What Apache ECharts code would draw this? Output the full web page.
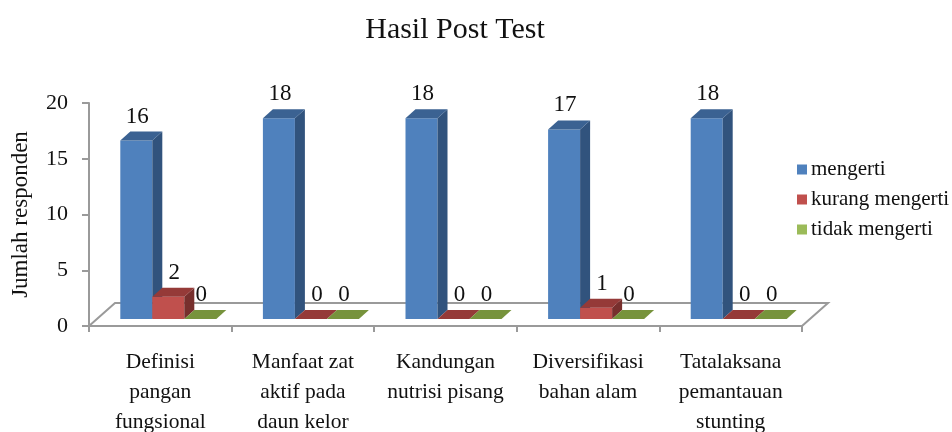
<!DOCTYPE html>
<html>
<head>
<meta charset="utf-8">
<style>
  html, body { margin: 0; padding: 0; background: #fff; }
  #chart { width: 952px; height: 432px; }
</style>
<script src="https://cdn.jsdelivr.net/npm/echarts@6/dist/echarts.min.js"></script>
</head>
<body>
<div id="chart"></div>
<script>
const categories = [
  "Definisi\npangan\nfungsional",
  "Manfaat zat\naktif pada\ndaun kelor",
  "Kandungan\nnutrisi pisang",
  "Diversifikasi\nbahan alam",
  "Tatalaksana\npemantauan\nstunting",
];
const mengerti = [16, 18, 18, 17, 18];
const kurangMengerti = [2, 0, 0, 1, 0];
const tidakMengerti = [0, 0, 0, 0, 0];

const serifFont = '"Liberation Serif", "Times New Roman", serif';
const axisColor = "#9a9a9a";

// pseudo-3D look, all in px relative to the grid
const barWidth = 32;
const depthX = 10;
const depthY = 9;
const floorDepthX = 26;
const floorDepthY = 23;
const baseLift = 7;

function makeBarRenderer(seriesIndex, colors, labelShift) {
  return (params, api) => {
    const value = api.value(1);
    const [cx, top] = api.coord([api.value(0), value]);
    const base = api.coord([api.value(0), 0])[1] - baseLift;
    const y = top - baseLift;
    const x = cx - 40 + seriesIndex * barWidth;
    const children = [];
    if (value > 0) {
      children.push({
        type: "rect",
        shape: { x, y, width: barWidth, height: base - y },
        style: { fill: colors.front },
      });
      children.push({
        type: "polygon",
        shape: {
          points: [
            [x + barWidth, y],
            [x + barWidth + depthX, y - depthY],
            [x + barWidth + depthX, base - depthY],
            [x + barWidth, base],
          ],
        },
        style: { fill: colors.side },
      });
    }
    children.push({
      type: "polygon",
      shape: {
        points: [
          [x, y],
          [x + depthX, y - depthY],
          [x + barWidth + depthX, y - depthY],
          [x + barWidth, y],
        ],
      },
      style: { fill: colors.top },
    });
    children.push({
      type: "text",
      style: {
        text: String(value),
        x: x + barWidth / 2 + labelShift,
        y: y - 24,
        align: "center",
        verticalAlign: "middle",
        font: `23px ${serifFont}`,
        fill: "#111",
      },
    });
    return { type: "group", children };
  };
}

function renderFloor(params) {
  const { x, y, width, height } = params.coordSys;
  const bottom = y + height;
  return {
    type: "polyline",
    shape: {
      points: [
        [x, bottom],
        [x + floorDepthX, bottom - floorDepthY],
        [x + width + floorDepthX, bottom - floorDepthY],
        [x + width, bottom],
      ],
    },
    style: { fill: "none", stroke: axisColor, lineWidth: 2 },
  };
}

const toPoints = (values) => values.map((v, i) => [i, v]);

const chart = echarts.init(document.getElementById("chart"), undefined, { renderer: "canvas" });
chart.setOption({
  animation: false,
  backgroundColor: "#fff",
  title: {
    text: "Hasil Post Test",
    left: 450,
    top: 10,
    textAlign: "center",
    textStyle: { fontFamily: serifFont, fontSize: 30, fontWeight: "normal", color: "#111" },
  },
  grid: { left: 89, right: 150, top: 103, bottom: 106, outerBoundsMode: "none" },
  legend: {
    orient: "vertical",
    left: 792,
    top: 154,
    itemWidth: 10,
    itemHeight: 10,
    itemGap: 9,
    icon: "rect",
    selectedMode: false,
    data: ["mengerti", "kurang mengerti", "tidak mengerti"],
    textStyle: { fontFamily: serifFont, fontSize: 21, color: "#111", padding: [0, 0, 0, -1] },
  },
  xAxis: {
    type: "category",
    data: categories,
    axisLine: { lineStyle: { color: axisColor, width: 2 } },
    axisTick: { show: true, length: 6, lineStyle: { color: axisColor, width: 2 } },
    axisLabel: {
      interval: 0,
      margin: 21,
      lineHeight: 30,
      fontFamily: serifFont,
      fontSize: 21.5,
      color: "#111",
    },
  },
  yAxis: {
    type: "value",
    min: 0,
    max: 20,
    interval: 5,
    name: "Jumlah responden",
    nameLocation: "middle",
    nameGap: 57,
    nameTextStyle: { fontFamily: serifFont, fontSize: 23, color: "#111" },
    axisLine: { show: true, lineStyle: { color: axisColor, width: 2 } },
    axisTick: { show: true, length: 7, lineStyle: { color: axisColor, width: 2 } },
    axisLabel: { margin: 21, fontFamily: serifFont, fontSize: 22, color: "#111" },
    splitLine: { show: false },
  },
  series: [
    {
      type: "custom",
      silent: true,
      z: 1,
      data: [[0, 0]],
      renderItem: renderFloor,
    },
    {
      name: "mengerti",
      type: "custom",
      z: 2,
      itemStyle: { color: "#4F81BD" },
      data: toPoints(mengerti),
      renderItem: makeBarRenderer(0, { front: "#4F81BD", side: "#31537D", top: "#3B6292" }, 1),
    },
    {
      name: "kurang mengerti",
      type: "custom",
      z: 2,
      itemStyle: { color: "#C0504D" },
      data: toPoints(kurangMengerti),
      renderItem: makeBarRenderer(1, { front: "#C0504D", side: "#772F2D", top: "#953A38" }, 6),
    },
    {
      name: "tidak mengerti",
      type: "custom",
      z: 2,
      itemStyle: { color: "#9BBB59" },
      data: toPoints(tidakMengerti),
      renderItem: makeBarRenderer(2, { front: "#9BBB59", side: "#5F7530", top: "#77933C" }, 1),
    },
  ],
});
</script>
</body>
</html>
